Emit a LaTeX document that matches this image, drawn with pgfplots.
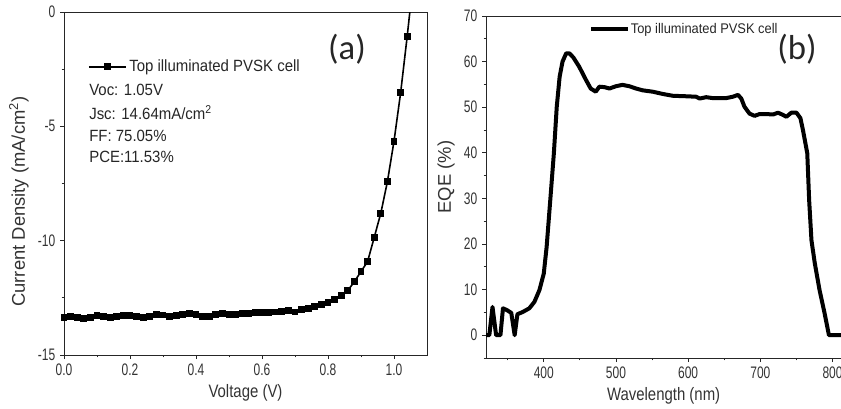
\documentclass[border=0pt]{standalone}
\usepackage{fontspec}
\setmainfont{Liberation Sans}
\newfontfamily\tickfont{Liberation Sans}[FakeStretch=0.72]
\newfontfamily\labfont{Liberation Sans}[FakeStretch=0.83]
\newfontfamily\legfont{Liberation Sans}[FakeStretch=0.92]
\newfontfamily\panelfont{Carlito}
\usepackage{pgfplots}
\pgfplotsset{compat=1.18}
\begin{document}
\begin{tikzpicture}
\pgfplotsset{mystyle/.style={
  scale only axis,
  axis line style={black!85, line width=0.6pt},
  tick style={black!85, line width=0.6pt},
  tick align=outside, tick pos=left,
  major tick length=3pt, minor tick length=1.8pt,
  ticklabel style={font=\tickfont\fontsize{12.5}{14}\selectfont, text=black!80},
  xlabel style={font=\labfont\fontsize{13.5}{16}\selectfont, text=black!80},
  ylabel style={font=\fontsize{13.8}{16}\selectfont, text=black!80},
  legend style={draw=none, fill=none, inner sep=0pt, outer sep=0pt},
  legend cell align=left,
}}
% ---------- panel (a)
\begin{axis}[mystyle,
  at={(48pt,39.75pt)}, anchor=south west,
  width=272.25pt, height=257.25pt,
  xmin=0, xmax=1.1, ymin=-15, ymax=0,
  xtick={0,0.2,0.4,0.6,0.8,1.0}, xticklabels={0.0,0.2,0.4,0.6,0.8,1.0},
  minor xtick={0.1,0.3,0.5,0.7,0.9},
  ytick={-15,-10,-5,0}, yticklabels={-15,-10,-5,0},
  minor ytick={-12.5,-7.5,-2.5},
  xlabel={Voltage (V)},
  ylabel={Current Density (mA/cm\textsuperscript{2})},
  ylabel style={at={(ticklabel cs:0.4475)}},
  legend style={at={(axis cs:0.0727,-2.40)}, anchor=west,
    font=\legfont\fontsize{12.2}{14}\selectfont, text=black!85},
  legend image code/.code={\draw[mark repeat=2,mark phase=2,#1] plot coordinates {(0pt,0pt) (13.875pt,0pt) (27.75pt,0pt)};},
]
\addplot[black, line width=1.2pt, mark=square*, mark size=2pt] coordinates {
(0.00,-13.35) (0.02,-13.30) (0.04,-13.35) (0.06,-13.42) (0.08,-13.35)
(0.10,-13.28) (0.12,-13.33) (0.14,-13.36) (0.16,-13.32) (0.18,-13.27)
(0.20,-13.28) (0.22,-13.30) (0.24,-13.38) (0.26,-13.30) (0.28,-13.23)
(0.30,-13.25) (0.32,-13.30) (0.34,-13.29) (0.36,-13.24) (0.38,-13.20)
(0.40,-13.22) (0.42,-13.32) (0.44,-13.30) (0.46,-13.24) (0.48,-13.19)
(0.50,-13.22) (0.52,-13.23) (0.54,-13.20) (0.56,-13.18) (0.58,-13.15)
(0.60,-13.14) (0.62,-13.14) (0.64,-13.12) (0.66,-13.08) (0.68,-13.07)
(0.70,-13.12) (0.72,-13.02) (0.74,-12.95) (0.76,-12.88) (0.78,-12.78)
(0.80,-12.70) (0.82,-12.59) (0.84,-12.41) (0.86,-12.18) (0.88,-11.79)
(0.90,-11.35) (0.92,-10.91) (0.94,-9.86) (0.96,-8.80) (0.98,-7.42)
(1.00,-5.65) (1.02,-3.54) (1.04,-1.06) (1.06,1.60)
};
\addlegendentry{Top illuminated PVSK cell}
\node[anchor=base west, font=\legfont\fontsize{12.2}{14}\selectfont, text=black!85, inner sep=0pt] at (axis cs:0.0758,-3.63) {Voc: 1.05V};
\node[anchor=base west, font=\legfont\fontsize{12.2}{14}\selectfont, text=black!85, inner sep=0pt] at (axis cs:0.0758,-4.68) {Jsc: 14.64mA/cm\textsuperscript{2}};
\node[anchor=base west, font=\legfont\fontsize{12.2}{14}\selectfont, text=black!85, inner sep=0pt] at (axis cs:0.0758,-5.67) {FF: 75.05\%};
\node[anchor=base west, font=\legfont\fontsize{12.2}{14}\selectfont, text=black!85, inner sep=0pt] at (axis cs:0.0758,-6.60) {PCE:11.53\%};
\node[font=\panelfont\fontsize{26}{30}\selectfont, text=black!85] at (axis cs:0.8576,-1.62) {(a)};
\end{axis}
% ---------- panel (b)
\begin{axis}[mystyle,
  at={(364.5pt,37.5pt)}, anchor=south west,
  width=266.4pt, height=256.5pt,
  xmin=320, xmax=812, ymin=-5, ymax=70,
  xtick={400,500,600,700,800},
  minor xtick={350,450,550,650,750},
  ytick={0,10,20,30,40,50,60,70},
  minor ytick={-5,5,15,25,35,45,55,65},
  /pgf/number format/assume math mode=true,
  xlabel={Wavelength (nm)},
  ylabel={EQE (\%)},
  ylabel style={at={(ticklabel cs:0.529)}},
  legend style={at={(axis cs:462.7,67.1)}, anchor=west,
    font=\legfont\fontsize{10.5}{12}\selectfont, text=black!85,
    nodes={inner sep=0.6pt}},
  legend image code/.code={\draw[#1] (0pt,0pt) -- (27.75pt,0pt);},
]
\addplot[black, line width=3pt, line join=round] table {
x y
320 0
324.6 0
329 6.2
334 0
340 0
343.5 5.9
349 5.5
355 4.9
359.7 0
363.5 4.6
371 5.1
380 5.9
387 7.3
394 9.9
400 13.5
404 19.4
409 29.6
414 39.9
418 50.1
422 56.7
426 60
431 61.8
435.6 61.8
441 60.9
449 58.9
458.4 56
465 54.1
472 53.4
477 54.5
484 54.4
491 54.1
500 54.6
509 54.9
518.5 54.6
527.8 54.1
537 53.7
551 53.4
565 52.9
579 52.5
597 52.4
611 52.3
616 51.9
625 52.2
634 52.0
643.5 52.0
652.8 52.0
662 52.3
669 52.7
673.6 51.9
678 50.1
685 48.6
692 48.1
699 48.5
708 48.5
717.6 48.4
724.5 48.8
731.5 48.3
736 47.9
743 48.8
750 48.8
755.5 47.6
759 45
765 39.9
767.6 29.6
770.8 20.8
775.5 15.7
782 9.9
789 4.8
795 0
812 0
};
\addlegendentry{Top illuminated PVSK cell}
\node[font=\panelfont\fontsize{26}{30}\selectfont, text=black!85] at (axis cs:750.7,62.8) {(b)};
\end{axis}
\pgfresetboundingbox
\path[use as bounding box] (0,0) rectangle (630.75pt,306pt);
\end{tikzpicture}
\end{document}
